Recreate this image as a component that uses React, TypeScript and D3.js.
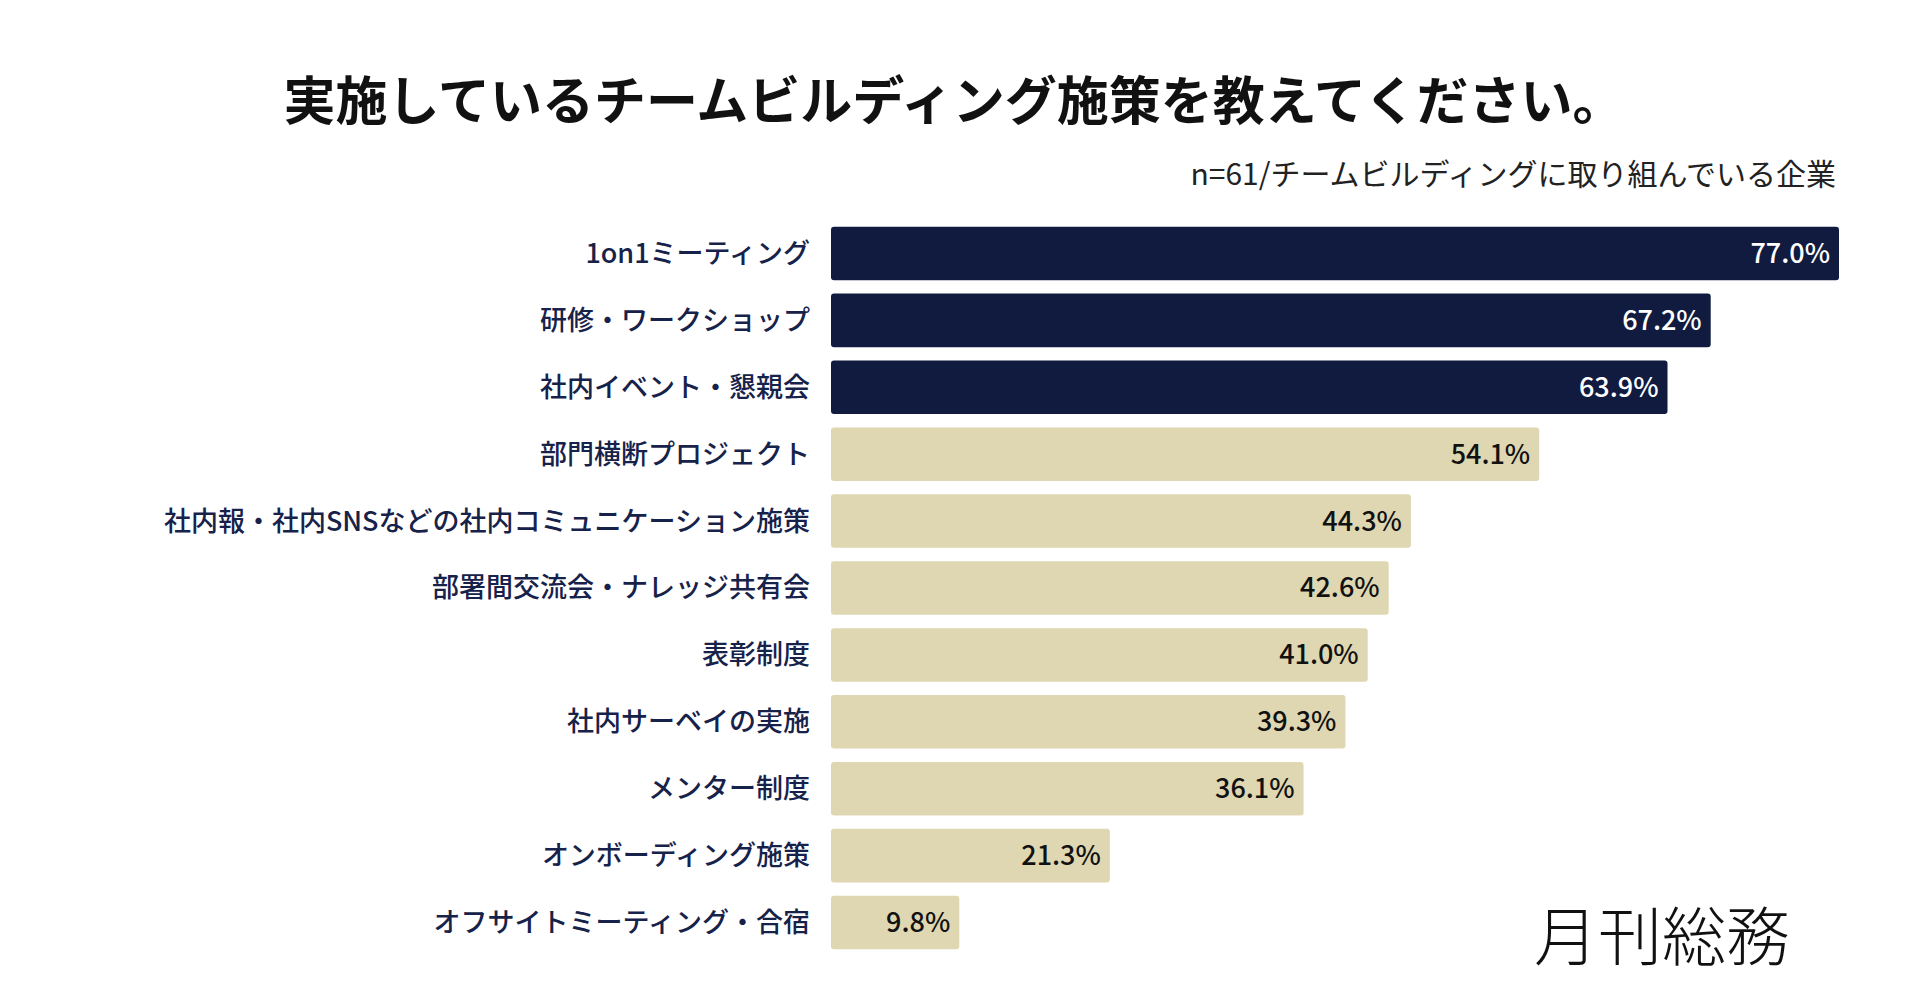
import React from "react";
import * as d3 from "d3";

const categories = ["1on1ミーティング","研修・ワークショップ","社内イベント・懇親会","部門横断プロジェクト","社内報・社内SNSなどの社内コミュニケーション施策","部署間交流会・ナレッジ共有会","表彰制度","社内サーベイの実施","メンター制度","オンボーディング施策","オフサイトミーティング・合宿"];
const values = [77.0,67.2,63.9,54.1,44.3,42.6,41.0,39.3,36.1,21.3,9.8];
const highlight = [true,true,true,false,false,false,false,false,false,false,false];

export default function App() {
  const W = 1920, H = 1005;
  const x = d3.scaleLinear().domain([0, 77]).range([831, 1839]);
  const y = d3.scaleBand().domain(categories).range([220, 956]).paddingInner(0.2).paddingOuter(0.1);
  const font = "'Noto Sans CJK JP', 'Noto Sans', sans-serif";
  return (
    <svg width={W} height={H} style={{ position: "absolute", left: 0, top: 0, background: "#fff" }} fontFamily={font}>
      <text x={954} y={120} textAnchor="middle" fontSize={52} fontWeight={700} fill="#111">実施しているチームビルディング施策を教えてください。</text>
      <text x={1836} y={185} textAnchor="end" fontSize={30} fill="#222">n=61/チームビルディングに取り組んでいる企業</text>
      {categories.map((c, i) => {
        const y0 = y(c)!, bh = y.bandwidth();
        return (
          <g key={c}>
            <rect x={x(0)} y={y0} width={x(values[i]) - x(0)} height={bh} rx={3} fill={highlight[i] ? "#111b40" : "#dfd7b1"} />
            <text x={810} y={y0 + bh / 2} dy="0.35em" textAnchor="end" fontSize={27} fontWeight={500} fill="#17224a">{c}</text>
            <text x={x(values[i]) - 9} y={y0 + bh / 2} dy="0.35em" textAnchor="end" fontSize={27} fontWeight={500} fill={highlight[i] ? "#fff" : "#111"}>{values[i].toFixed(1)}%</text>
          </g>
        );
      })}
      <text x={1790} y={960} textAnchor="end" fontSize={64} fontWeight={300} fill="#111">月刊総務</text>
    </svg>
  );
}
